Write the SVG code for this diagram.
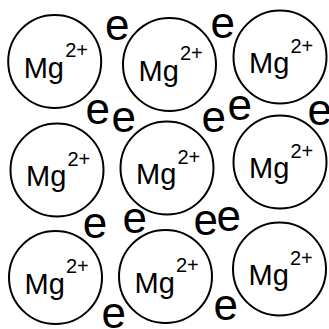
<svg xmlns="http://www.w3.org/2000/svg" width="329" height="329" viewBox="0 0 329 329">
<style>
.ion{fill:#fff;stroke:#000;stroke-width:2}
text{font-family:"Liberation Sans",Arial,sans-serif;fill:#000}
.mg{font-size:29px}
.sup{font-size:20px}
.e{font-size:44px}
</style>
<rect width="329" height="329" fill="#fff"/>
<g id="ion1"><circle class="ion" cx="54.7" cy="61.5" r="46.5"/><text class="mg" x="23.7" y="77.5">Mg</text><text class="sup" x="65.2" y="57">2+</text></g>
<g id="ion2"><circle class="ion" cx="169.5" cy="64.5" r="46.5"/><text class="mg" x="138.5" y="80.5">Mg</text><text class="sup" x="180" y="60">2+</text></g>
<g id="ion3"><circle class="ion" cx="280" cy="57" r="46.5"/><text class="mg" x="249" y="73">Mg</text><text class="sup" x="290.5" y="52.5">2+</text></g>
<g id="ion4"><circle class="ion" cx="57" cy="170" r="46.5"/><text class="mg" x="26" y="186">Mg</text><text class="sup" x="67.5" y="165.5">2+</text></g>
<g id="ion5"><circle class="ion" cx="167" cy="168" r="46.5"/><text class="mg" x="136" y="184">Mg</text><text class="sup" x="177.5" y="163.5">2+</text></g>
<g id="ion6"><circle class="ion" cx="280" cy="162" r="46.5"/><text class="mg" x="249" y="178">Mg</text><text class="sup" x="290.5" y="157.5">2+</text></g>
<g id="ion7"><circle class="ion" cx="55.5" cy="277.5" r="46.5"/><text class="mg" x="24.5" y="293.5">Mg</text><text class="sup" x="66" y="273">2+</text></g>
<g id="ion8"><circle class="ion" cx="165.5" cy="276.5" r="46.5"/><text class="mg" x="134.5" y="292.5">Mg</text><text class="sup" x="176" y="272">2+</text></g>
<g id="ion9"><circle class="ion" cx="279.5" cy="269" r="46.5"/><text class="mg" x="248.5" y="285">Mg</text><text class="sup" x="290" y="264.5">2+</text></g>
<g id="electrons" class="e">
<text class="e" x="105" y="40">e</text>
<text class="e" x="210.5" y="37.5">e</text>
<text class="e" x="85.5" y="123.5">e</text>
<text class="e" x="111.5" y="131.5">e</text>
<text class="e" x="201.5" y="131.5">e</text>
<text class="e" x="227.5" y="119.5">e</text>
<text class="e" x="307.5" y="124.5">e</text>
<text class="e" x="82.7" y="237.5">e</text>
<text class="e" x="122.5" y="232.5">e</text>
<text class="e" x="193.5" y="234.5">e</text>
<text class="e" x="216.5" y="231">e</text>
<text class="e" x="101.5" y="328">e</text>
<text class="e" x="213.5" y="319.5">e</text>
</g>
</svg>
